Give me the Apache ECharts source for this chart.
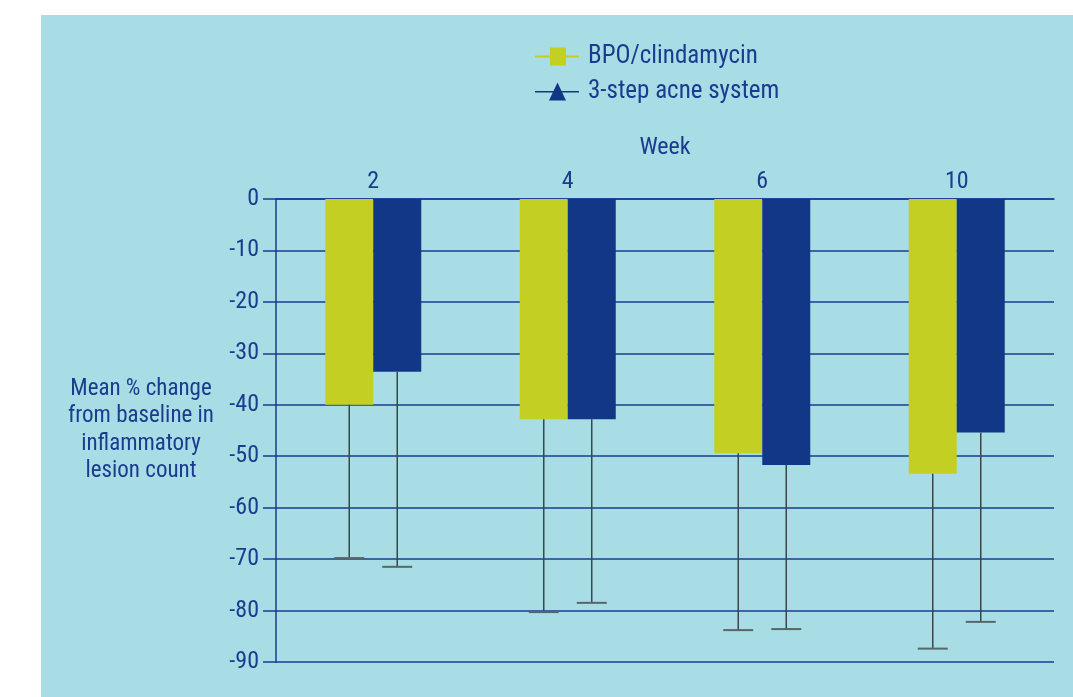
<!DOCTYPE html>
<html>
<head>
<meta charset="utf-8">
<script src="https://cdn.jsdelivr.net/npm/echarts@6/dist/echarts.min.js"></script>
<style>
  html, body { margin: 0; padding: 0; background: #fff; }
  #chart { width: 1073px; height: 697px; }
</style>
</head>
<body>
<div id="chart"></div>
<script>
// values
const weeks = ['2', '4', '6', '10']
const bpoMean = [-40.0, -42.8, -49.4, -53.4]
const bpoLow = [-69.8, -80.3, -83.8, -87.4]
const stepMean = [-33.6, -42.8, -51.7, -45.4]
const stepLow = [-71.5, -78.5, -83.6, -82.2]

const ink = '#1b3b8e'
const font = "'Liberation Sans Narrow', 'Roboto Condensed', 'Liberation Sans', sans-serif"
const barW = 48

const squareIcon = 'path://M0,8H15V0H31V8H44V10H31V18H15V10H0Z'
const triIcon = 'path://M14,18L22.5,0L31,18Z M0,8.5H44V10H0Z'

function errorItem(offset) {
  return function (params, api) {
    const idx = api.value(0)
    const x = api.coord([idx, 0])[0] + offset
    const yTop = api.coord([idx, api.value(1)])[1]
    const yEnd = api.coord([idx, api.value(2)])[1]
    return {
      type: 'group',
      children: [
        {
          type: 'line',
          shape: { x1: x, y1: yTop, x2: x, y2: yEnd },
          style: { stroke: '#3a4649', lineWidth: 1.5 }
        },
        {
          type: 'line',
          shape: { x1: x - 15, y1: yEnd, x2: x + 15, y2: yEnd },
          style: { stroke: '#56676a', lineWidth: 2 }
        }
      ]
    }
  }
}

const chart = echarts.init(document.getElementById('chart'))
chart.setOption({
  animation: false,
  textStyle: { fontFamily: font, color: ink },
  graphic: [
    {
      type: 'rect',
      z: -10,
      silent: true,
      shape: { x: 41, y: 15, width: 1073 - 41, height: 697 - 15 },
      style: { fill: '#a8dde6' }
    },
    {
      type: 'text',
      x: 141,
      y: 430,
      style: {
        text: 'Mean % change\nfrom baseline in\ninflammatory\nlesion count',
        font: '23px ' + font,
        fill: ink,
        align: 'center',
        verticalAlign: 'middle',
        lineHeight: 27.5
      }
    }
  ],
  legend: {
    orient: 'vertical',
    left: 535,
    top: 44,
    padding: 0,
    itemWidth: 44,
    itemHeight: 18,
    itemGap: 10,
    textStyle: { fontSize: 25, color: ink, fontFamily: font, padding: [0, 0, 0, 4] },
    data: [
      { name: 'BPO/clindamycin', icon: squareIcon },
      { name: '3-step acne system', icon: triIcon }
    ]
  },
  grid: { left: 276, top: 199, right: 19, bottom: 35 },
  xAxis: {
    type: 'category',
    position: 'top',
    data: weeks,
    name: 'Week',
    nameLocation: 'middle',
    nameGap: 39,
    nameTextStyle: { fontSize: 24, color: ink, fontFamily: font },
    axisLine: { lineStyle: { color: ink, width: 1.5 } },
    axisTick: { inside: true, length: 11, lineStyle: { color: ink, width: 1.5 } },
    axisLabel: { fontSize: 24, color: ink, margin: 5, fontFamily: font }
  },
  yAxis: {
    type: 'value',
    min: -90,
    max: 0,
    interval: 10,
    axisLine: { show: true, lineStyle: { color: ink, width: 1.5 } },
    axisTick: { show: true, length: 13, lineStyle: { color: ink, width: 1.5 } },
    axisLabel: { fontSize: 24, color: ink, margin: 17, fontFamily: font },
    splitLine: { lineStyle: { color: ink, width: 1.5 } }
  },
  series: [
    {
      name: 'BPO/clindamycin',
      type: 'bar',
      data: bpoMean,
      barWidth: barW,
      barGap: '0%',
      itemStyle: { color: '#c3d023' }
    },
    {
      name: '3-step acne system',
      type: 'bar',
      data: stepMean,
      barWidth: barW,
      itemStyle: { color: '#133787' }
    },
    {
      type: 'custom',
      renderItem: errorItem(-barW / 2),
      data: weeks.map((w, i) => [i, bpoMean[i], bpoLow[i]]),
      encode: { x: 0, y: [1, 2] },
      z: 3
    },
    {
      type: 'custom',
      renderItem: errorItem(barW / 2),
      data: weeks.map((w, i) => [i, stepMean[i], stepLow[i]]),
      encode: { x: 0, y: [1, 2] },
      z: 3
    }
  ]
})
</script>
</body>
</html>
